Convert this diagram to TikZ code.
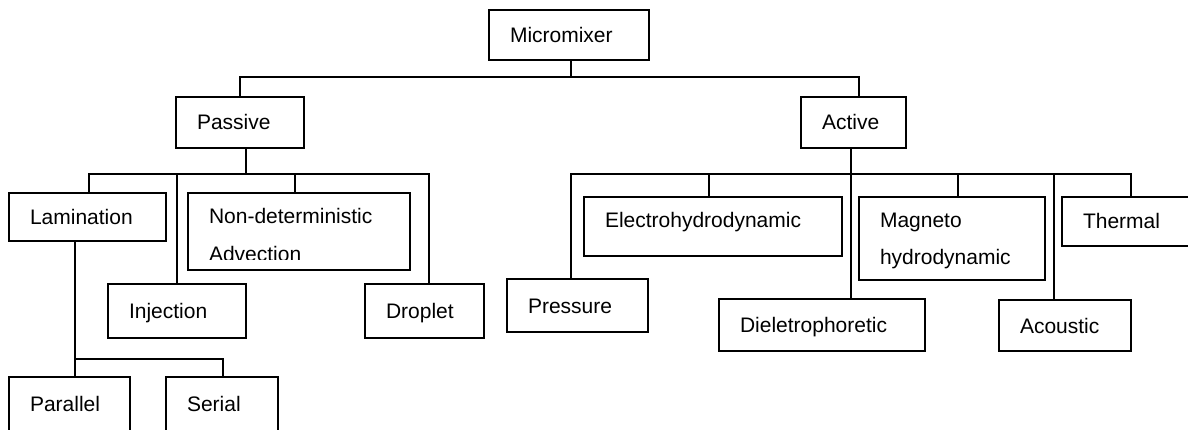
\documentclass[tikz,border=0pt]{standalone}
\usepackage{fontspec}
\setmainfont{Liberation Sans}
\begin{document}
\begin{tikzpicture}[x=1pt,y=-1pt,line width=2pt,font=\fontsize{21}{37.5}\selectfont]
\tikzset{box/.style 2 args={draw,anchor=north west,outer sep=0pt,inner xsep=21pt,inner ysep=0pt,align=left,
  text height=15pt,text depth=0pt,minimum width=#1pt,text width=#1pt-42pt,minimum height=#2pt}}
\useasboundingbox (0,0) rectangle (1188,430);
\clip (0,0) rectangle (1188,430);
% levels
\node[box={160}{50}] (mic) at (489,10) {Micromixer};
\node[box={128}{51}] (pas) at (176,97) {Passive};
\node[box={105}{51}] (act) at (801,97) {Active};
% passive branch
\node[box={157}{48}] (lam) at (9,193) {Lamination};
\begin{scope}
\clip (188,193) rectangle (410,259.5);
\node[box={222}{77},draw=none,text depth=30pt] (nde) at (188,193) {Non-deterministic\\Advection};
\end{scope}
\draw (nde.north west) rectangle (nde.south east);
\node[box={138}{54}] (inj) at (108,284) {Injection};
\node[box={119}{54}] (drp) at (365,284) {Droplet};
\node[box={121}{54}] (par) at (9,377) {Parallel};
\node[box={112}{54}] (ser) at (166,377) {Serial};
% active branch
\node[box={141}{53}] (prs) at (507,279) {Pressure};
\node[box={258}{59},text depth=12pt] (ele) at (584,197) {Electrohydrodynamic};
\node[box={206}{52}] (dil) at (719,299) {Dieletrophoretic};
\node[box={186}{83},text depth=37pt] (mag) at (859,197) {Magneto\\hydrodynamic};
\node[box={132}{51}] (aco) at (999,300) {Acoustic};
\node[box={138}{49}] (thm) at (1062,197) {Thermal};
% connectors
\coordinate (top) at (571,77);
\draw (mic.south -| top) -- (top);
\draw (pas.north) |- (top) -| ([xshift=5.5pt]act.north);
\coordinate (pbus) at (246,174);
\draw (pas.south -| pbus) -- (pbus);
\draw ([xshift=1.5pt]lam.north) |- (pbus) -| ([xshift=4.5pt]drp.north);
\draw (inj.north) -- ++(0,-110);
\draw ([xshift=-4pt]nde.north) -- ++(0,-19);
\coordinate (lbus) at (75,359);
\draw (lam.south -| lbus) -- (lbus);
\draw (par.north -| lbus) -- (lbus) -| ([xshift=1pt]ser.north);
\coordinate (abus) at (851,174);
\draw (act.south -| abus) -- (dil.north -| abus);
\draw ([xshift=-6.5pt]prs.north) |- (abus) -| (thm.north);
\draw ([xshift=-4pt]ele.north) -- ++(0,-23);
\draw ([xshift=6pt]mag.north) -- ++(0,-23);
\draw ([xshift=-11pt]aco.north) -- ++(0,-126);
\end{tikzpicture}
\end{document}
